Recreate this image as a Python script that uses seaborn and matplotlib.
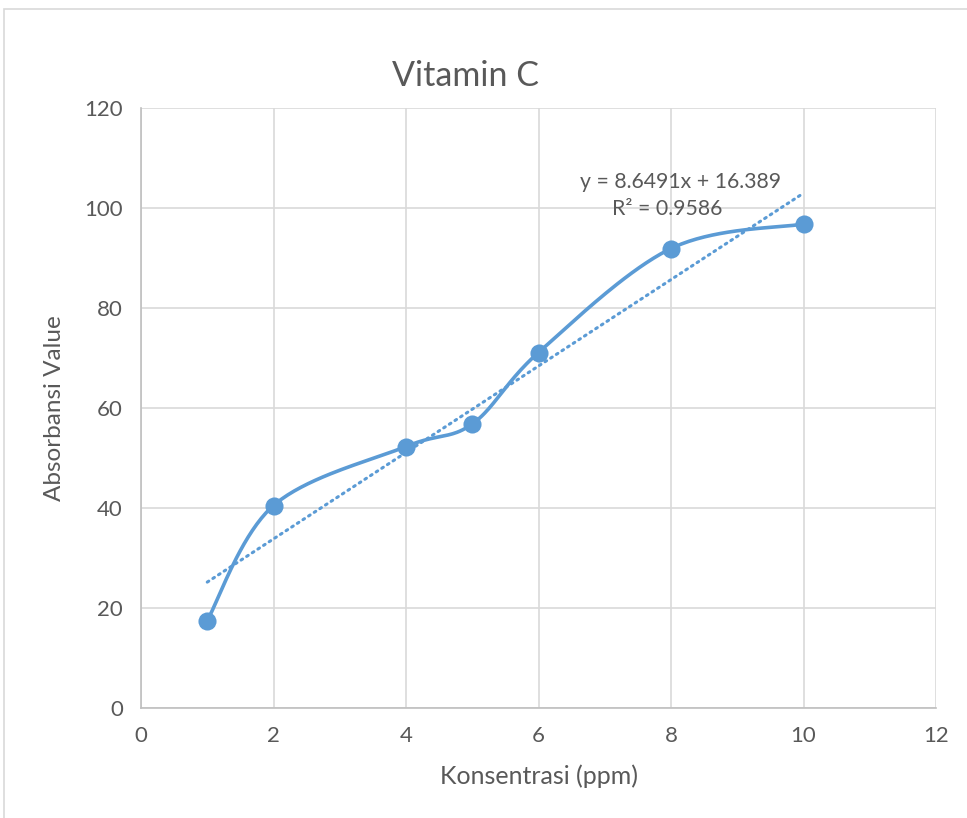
import numpy as np
import pandas as pd
import seaborn as sns
import matplotlib.pyplot as plt
from matplotlib.patches import Rectangle

# data
konsentrasi = [1, 2, 4, 5, 6, 8, 10]
absorbansi = [17.5, 40.5, 52.3, 56.8, 71.1, 91.9, 96.8]
x_ticks = [0, 2, 4, 6, 8, 10, 12]
y_ticks = [0, 20, 40, 60, 80, 100, 120]
title = "Vitamin C"
x_label = "Konsentrasi (ppm)"
y_label = "Absorbansi Value"
eq_label = "y = 8.6491x + 16.389"
r2_label = "R² = 0.9586"

blue = "#5B9BD5"
text_grey = "#595959"
grid_grey = "#D9D9D9"


def smooth_curve(xs, ys, n=40):
    """Excel-like smoothed line (Catmull-Rom as cubic Bezier)."""
    p = np.column_stack([xs, ys]).astype(float)
    out = []
    for i in range(len(p) - 1):
        p0 = p[i - 1] if i > 0 else p[i]
        p1, p2 = p[i], p[i + 1]
        p3 = p[i + 2] if i + 2 < len(p) else p[i + 1]
        c1 = p1 + (p2 - p0) / 6
        c2 = p2 - (p3 - p1) / 6
        t = np.linspace(0, 1, n)[:, None]
        seg = ((1 - t) ** 3) * p1 + 3 * ((1 - t) ** 2) * t * c1 + 3 * (1 - t) * t ** 2 * c2 + t ** 3 * p2
        out.append(seg if i == 0 else seg[1:])
    return np.vstack(out)


sns.set_theme(style="white")
plt.rcParams['font.family'] = ['Lato', 'DejaVu Sans']

fig = plt.figure(figsize=(9.67, 8.18), dpi=100)
ax = fig.add_axes([141 / 967, 1 - 708 / 818, 795 / 967, 600 / 818])

df = pd.DataFrame({"x": konsentrasi, "y": absorbansi})

# linear trendline
slope, intercept = np.polyfit(df["x"], df["y"], 1)
trend = pd.DataFrame({"x": [min(konsentrasi), max(konsentrasi)]})
trend["y"] = slope * trend["x"] + intercept
sns.lineplot(data=trend, x="x", y="y", ax=ax, color=blue, lw=2.2,
             linestyle=(0, (0.6, 1.6)), dash_capstyle="round", zorder=3)

curve = smooth_curve(konsentrasi, absorbansi)
sns.lineplot(x=curve[:, 0], y=curve[:, 1], ax=ax, color=blue, lw=2.6,
             sort=False, estimator=None, zorder=4)
sns.scatterplot(data=df, x="x", y="y", ax=ax, color=blue, s=170,
                edgecolor=blue, linewidth=0, zorder=5)

ax.set_xlim(0, 12)
ax.set_ylim(0, 120)
ax.set_xticks(x_ticks)
ax.set_yticks(y_ticks)
ax.grid(True, color=grid_grey, lw=1.2)
ax.set_axisbelow(True)
for s in ["top", "right"]:
    ax.spines[s].set_visible(False)
for s in ["left", "bottom"]:
    ax.spines[s].set_color("#BFBFBF")
    ax.spines[s].set_linewidth(1.2)
ax.tick_params(axis="both", length=0, labelsize=16, colors=text_grey, pad=13)

ax.set_xlabel(x_label, fontsize=18, color=text_grey, labelpad=13)
ax.set_ylabel(y_label, fontsize=17.5, color=text_grey, labelpad=14)
fig.text(465 / 967, 1 - 76 / 818, title, fontsize=24.5, color=text_grey,
         ha="center", va="center")

ax.text(8.14, 105.2, eq_label, fontsize=15.3,
        color=text_grey, ha="center", va="center")
ax.text(7.95, 99.8, r2_label, fontsize=15.3,
        color=text_grey, ha="center", va="center")

# chart area border
fig.patches.append(Rectangle((4 / 967, -0.1), 1.1, 1 - 9 / 818 + 0.1,
                             transform=fig.transFigure, fill=False,
                             edgecolor="#D9D9D9", lw=1.2))

fig.savefig("out.png", dpi=100)
